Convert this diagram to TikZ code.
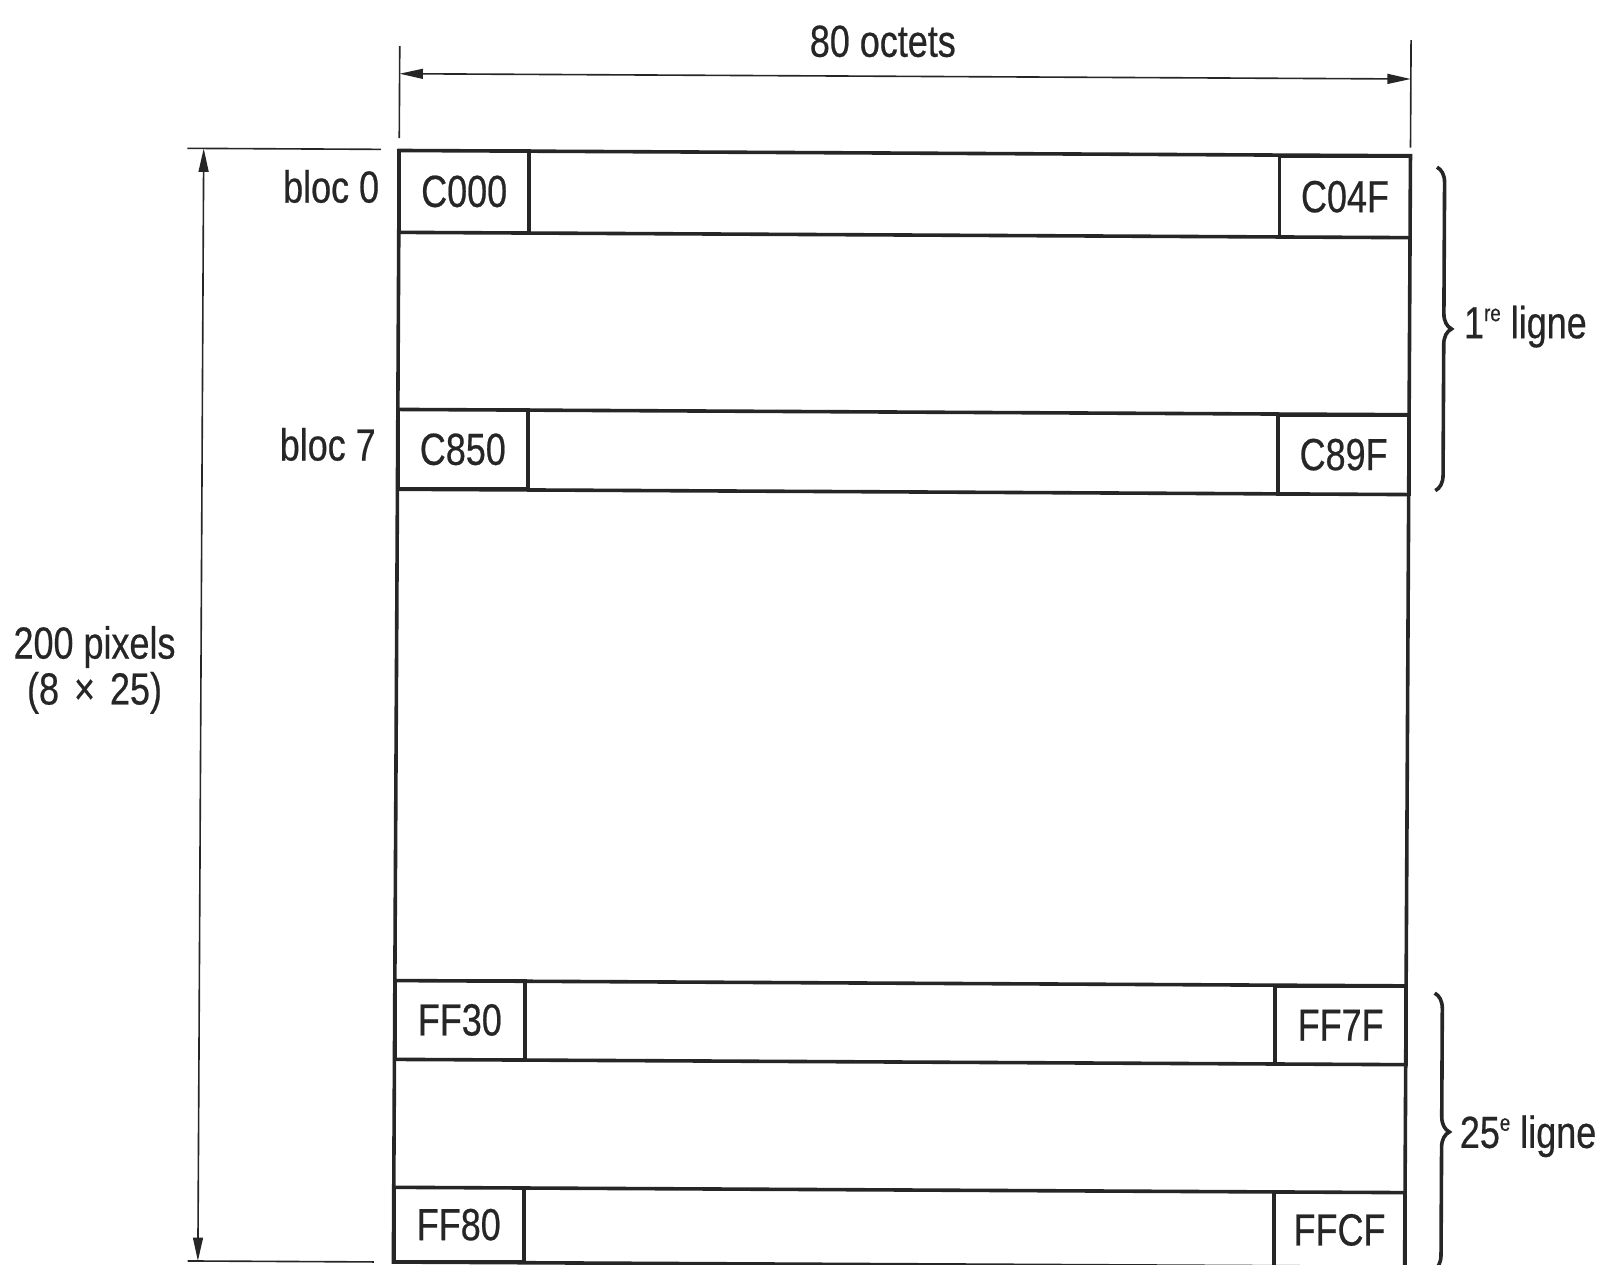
\documentclass[tikz,border=0pt]{standalone}
\usepackage{fontspec}
\setmainfont{Liberation Sans}[FakeStretch=0.8,FakeBold=0.5]
\usetikzlibrary{arrows.meta,decorations.pathreplacing}
\definecolor{ink}{RGB}{38,38,38}
\newcommand{\supr}[1]{\raisebox{0.72ex}{\fontsize{13}{13}\selectfont #1}}
\begin{document}
\begin{tikzpicture}[x=0.02cm,y=-0.02cm,
  font=\fontsize{25}{25}\selectfont, text=ink,
  box/.style={draw=ink, line width=2pt},
  cell/.style={draw=ink, line width=2pt, inner sep=0pt, outer sep=0pt, minimum width=2.54cm},
  dim/.style={draw=ink, line width=0.9pt},
  arr/.style={dim, {Triangle[length=13pt,width=5.5pt]}-{Triangle[length=13pt,width=5.5pt]}},
  lbl/.style={inner sep=0pt},
  brc/.style={draw=ink, line width=2pt, decorate, decoration={brace, amplitude=0.3cm}}]
\useasboundingbox (0,0) rectangle (1568,1235);
\begin{scope}[rotate around={-0.3:(390,147)}]
  % main frame
  \draw[box] (390,147) rectangle (1378,1233);
  % row lines
  \draw[box] (390,227) -- (1378,227);
  \draw[box] (390,400) -- (1378,400);
  \draw[box] (390,478) -- (1378,478);
  \draw[box] (390,958) -- (1378,958);
  \draw[box] (390,1035) -- (1378,1035);
  \draw[box] (390,1160) -- (1378,1160);
  % cells
  \node[cell, minimum height=1.6cm, anchor=north west] (c000) at (390,147) {C000};
  \node[cell, minimum height=1.6cm, minimum width=2.56cm, anchor=north east] (c04f) at (1378,147) {C04F};
  \node[cell, minimum height=1.56cm, anchor=north west] (c850) at (390,400) {C850};
  \node[cell, minimum height=1.56cm, minimum width=2.56cm, anchor=north east] (c89f) at (1378,400) {C89F};
  \node[cell, minimum height=1.54cm, anchor=north west] (ff30) at (390,958) {FF30};
  \node[cell, minimum height=1.54cm, minimum width=2.56cm, anchor=north east] (ff7f) at (1378,958) {FF7F};
  \node[cell, minimum height=1.46cm, anchor=north west] (ff80) at (390,1160) {FF80};
  \node[cell, minimum height=1.46cm, minimum width=2.56cm, anchor=north east] (ffcf) at (1378,1160) {FFCF};
  % row labels
  \node[lbl, anchor=base east] (b0) at (371,198) {bloc 0};
  \node[lbl, anchor=base east] (b7) at (369,450) {bloc 7};
  % top dimension
  \draw[dim] (390,45) -- (390,135);
  \draw[dim] (1378,34) -- (1378,139);
  \coordinate (al) at (390,72);
  \coordinate (ar) at (1378,72);
  \draw[arr] (al) -- (ar);
  \node[lbl, anchor=base] (oct) at (862,53) {80 octets};
  % left dimension
  \draw[dim] (183,146) -- (372,146);
  \draw[dim] (189,1233) -- (371,1233);
  \coordinate (vt) at (199,146);
  \coordinate (vb) at (199,1233);
  \draw[arr] (vt) -- (vb);
  \node[lbl, align=center, font=\fontsize{25}{25.5}\selectfont] (pix) at (95,656) {200 pixels\\(8\,\,×\,\,25)};
  % braces
  \coordinate (br1t) at (1404,158);
  \coordinate (br1b) at (1404,474);
  \draw[brc] (br1t) -- (br1b);
  \node[lbl, anchor=base west] (l1) at (1431,325) {1\supr{re} ligne};
  \coordinate (br2t) at (1406,965);
  \coordinate (br2b) at (1406,1236);
  \draw[brc] (br2t) -- (br2b);
  \node[lbl, anchor=base west] (l25) at (1431,1116) {25\supr{e} ligne};
\end{scope}
\end{tikzpicture}
\end{document}
